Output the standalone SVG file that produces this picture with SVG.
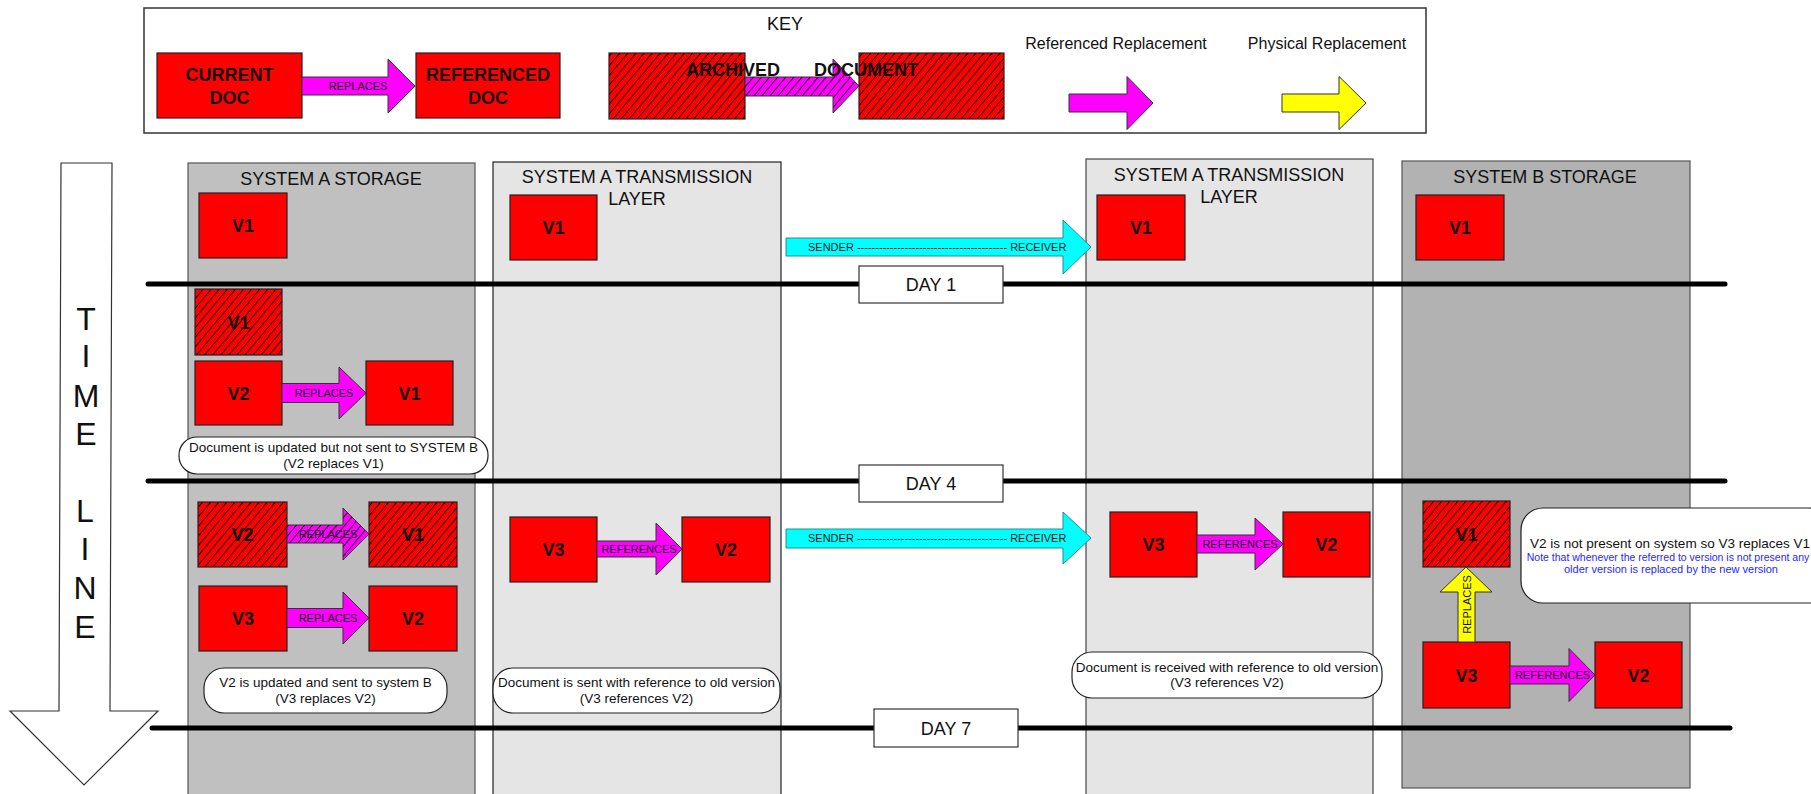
<svg xmlns="http://www.w3.org/2000/svg" width="1811" height="794" viewBox="0 0 1811 794">
<defs>
<pattern id="hatchRed" width="6.2" height="6.2" patternUnits="userSpaceOnUse" patternTransform="rotate(40)">
<rect width="6.2" height="6.2" fill="#ff0000"/>
<line x1="0.5" y1="0" x2="0.5" y2="6.2" stroke="#000" stroke-width="0.9"/>
</pattern>
<pattern id="hatchMag" width="6.2" height="6.2" patternUnits="userSpaceOnUse" patternTransform="rotate(40)">
<rect width="6.2" height="6.2" fill="#ff00ff"/>
<line x1="0.5" y1="0" x2="0.5" y2="6.2" stroke="#000" stroke-width="0.9"/>
</pattern>
</defs>
<style>
text{font-family:"Liberation Sans",Arial,sans-serif;fill:#111}
.doc{fill:#ff0000;stroke:#222;stroke-width:1.2}
.arch{fill:url(#hatchRed);stroke:#222;stroke-width:1.2}
.v{font-size:18px;font-weight:bold;text-anchor:middle}
.mag{fill:#ff00ff;stroke:#333;stroke-width:1}
.magh{fill:url(#hatchMag);stroke:#333;stroke-width:1}
.yel{fill:#ffff00;stroke:#333;stroke-width:1}
.cyan{fill:#00ffff;stroke:#2a8a8a;stroke-width:1}
.lbl{font-size:11px;text-anchor:middle}
.title{font-size:18px;text-anchor:middle}
.note{fill:#fff;stroke:#222;stroke-width:1.2}
.nt{font-size:13.5px;text-anchor:middle}
.day{fill:#fff;stroke:#333;stroke-width:1.2}
.dline{stroke:#000;stroke-width:5;stroke-linecap:round}
.tl{font-size:32px;text-anchor:middle}
</style>
<rect width="1811" height="794" fill="#fff"/>

<!-- columns -->
<g id="col-a-storage"><rect x="188" y="163" width="287" height="640" fill="#c0c0c0" stroke="#555" stroke-width="1.2"/><text class="title" x="331" y="184.5">SYSTEM A STORAGE</text></g>
<g id="col-a-trans-left"><rect x="493" y="162" width="288" height="640" fill="#e5e5e5" stroke="#222" stroke-width="1.2"/><text class="title" x="637" y="183">SYSTEM A TRANSMISSION</text><text class="title" x="637" y="205">LAYER</text></g>
<g id="col-a-trans-right"><rect x="1086" y="159" width="287" height="640" fill="#e5e5e5" stroke="#444" stroke-width="1.2"/><text class="title" x="1229" y="181">SYSTEM A TRANSMISSION</text><text class="title" x="1229" y="203">LAYER</text></g>
<g id="col-b-storage"><rect x="1402" y="161" width="288" height="627" fill="#b2b2b2" stroke="#555" stroke-width="1.2"/><text class="title" x="1545" y="183">SYSTEM B STORAGE</text></g>

<!-- key -->
<g id="key">
<rect x="144" y="8" width="1282" height="125" fill="#fff" stroke="#333" stroke-width="1.5"/>
<text x="785" y="29.5" style="font-size:18px;text-anchor:middle">KEY</text>
<text x="1116" y="49" style="font-size:16px;text-anchor:middle">Referenced Replacement</text>
<text x="1327" y="49" style="font-size:16px;text-anchor:middle">Physical Replacement</text>
</g>
<g id="key-current"><rect class="doc" x="157" y="53" width="145" height="65"/><text class="v" x="229.5" y="80.5">CURRENT</text><text class="v" x="229.5" y="103.5">DOC</text></g>
<g id="key-referenced"><rect class="doc" x="416" y="53" width="144" height="65"/><text class="v" x="488" y="80.5">REFERENCED</text><text class="v" x="488" y="103.5">DOC</text></g>
<g id="key-archived"><rect class="arch" x="609" y="53" width="136" height="66"/></g>
<g id="key-document"><rect class="arch" x="859" y="53" width="145" height="66"/></g>

<!-- timeline -->
<g id="timeline">
<polygon points="61,163 112,163 110,711 158,711 84,785 10,711 59,711" fill="#fff" stroke="#333" stroke-width="1.2"/>
<text class="tl" x="86" y="330">T</text>
<text class="tl" x="86" y="367">I</text>
<text class="tl" x="86" y="407">M</text>
<text class="tl" x="86" y="445">E</text>
<text class="tl" x="85" y="522">L</text>
<text class="tl" x="85" y="560">I</text>
<text class="tl" x="85" y="599">N</text>
<text class="tl" x="85" y="638">E</text>
</g>

<!-- day lines -->
<g id="day-lines">
<line class="dline" x1="148" y1="284" x2="1725" y2="284"/>
<line class="dline" x1="148" y1="481" x2="1725" y2="481"/>
<line class="dline" x1="152" y1="728" x2="1730" y2="728"/>
</g>
<g id="day1"><rect class="day" x="859" y="266" width="144" height="37"/><text class="title" x="931" y="291">DAY 1</text></g>
<g id="day4"><rect class="day" x="859" y="465" width="144" height="37"/><text class="title" x="931" y="490">DAY 4</text></g>
<g id="day7"><rect class="day" x="874" y="709" width="144" height="38"/><text class="title" x="946" y="734.5">DAY 7</text></g>

<!-- row 1 nodes -->
<g id="as-v1-d1"><rect class="doc" x="199" y="193" width="88" height="65"/><text class="v" x="243" y="232">V1</text></g>
<g id="atl-v1-d1"><rect class="doc" x="510" y="195" width="87" height="65"/><text class="v" x="553.5" y="234">V1</text></g>
<g id="atr-v1-d1"><rect class="doc" x="1097" y="195" width="88" height="65"/><text class="v" x="1141" y="234">V1</text></g>
<g id="bs-v1-d1"><rect class="doc" x="1416" y="195" width="88" height="65"/><text class="v" x="1460" y="234">V1</text></g>

<!-- row 2 nodes -->
<g id="as-v1-arch-d4"><rect class="arch" x="195" y="289" width="87" height="66"/><text class="v" x="238.5" y="328.5">V1</text></g>
<g id="as-v2-d4"><rect class="doc" x="195" y="361" width="87" height="64"/><text class="v" x="238.5" y="399.5">V2</text></g>
<g id="as-v1-d4"><rect class="doc" x="366" y="361" width="87" height="64"/><text class="v" x="409.5" y="399.5">V1</text></g>
<g id="note-d4"><rect class="note" x="179" y="437" width="309" height="37" rx="18" ry="18"/><text class="nt" x="333.5" y="452">Document is updated but not sent to SYSTEM B</text><text class="nt" x="333.5" y="468">(V2 replaces V1)</text></g>

<!-- row 3 nodes -->
<g id="as-v2-arch-d7"><rect class="arch" x="198" y="502" width="89" height="65"/><text class="v" x="242.5" y="541">V2</text></g>
<g id="as-v1-arch-d7"><rect class="arch" x="369" y="502" width="88" height="65"/><text class="v" x="413" y="541">V1</text></g>
<g id="as-v3-d7"><rect class="doc" x="199" y="586" width="88" height="65"/><text class="v" x="243" y="625">V3</text></g>
<g id="as-v2-d7"><rect class="doc" x="369" y="586" width="88" height="65"/><text class="v" x="413" y="625">V2</text></g>
<g id="note-as-d7"><rect class="note" x="204" y="668" width="243" height="45" rx="20" ry="20"/><text class="nt" x="325.5" y="687">V2 is updated and sent to system B</text><text class="nt" x="325.5" y="703">(V3 replaces V2)</text></g>

<g id="atl-v3-d7"><rect class="doc" x="510" y="517" width="87" height="65"/><text class="v" x="553.5" y="556">V3</text></g>
<g id="atl-v2-d7"><rect class="doc" x="682" y="517" width="88" height="65"/><text class="v" x="726" y="556">V2</text></g>
<g id="note-atl-d7"><rect class="note" x="493" y="668" width="287" height="45" rx="20" ry="20"/><text class="nt" x="636.5" y="687">Document is sent with reference to old version</text><text class="nt" x="636.5" y="703">(V3 references V2)</text></g>

<g id="atr-v3-d7"><rect class="doc" x="1110" y="512" width="87" height="65"/><text class="v" x="1153.5" y="551">V3</text></g>
<g id="atr-v2-d7"><rect class="doc" x="1283" y="512" width="87" height="65"/><text class="v" x="1326.5" y="551">V2</text></g>
<g id="note-atr-d7"><rect class="note" x="1072" y="652" width="310" height="46" rx="20" ry="20"/><text class="nt" x="1227" y="672">Document is received with reference to old version</text><text class="nt" x="1227" y="687">(V3 references V2)</text></g>

<g id="bs-v1-arch-d7"><rect class="arch" x="1423" y="501" width="87" height="66"/><text class="v" x="1466.5" y="540.5">V1</text></g>
<g id="bs-v3-d7"><rect class="doc" x="1423" y="642" width="87" height="66"/><text class="v" x="1466.5" y="681.5">V3</text></g>
<g id="bs-v2-d7"><rect class="doc" x="1595" y="642" width="87" height="66"/><text class="v" x="1638.5" y="681.5">V2</text></g>
<g id="note-bs-d7"><rect class="note" x="1521" y="508" width="310" height="95" rx="22" ry="22"/><text class="nt" x="1670" y="548">V2 is not present on system so V3 replaces V1</text><text x="1668" y="561" style="font-size:10.5px;text-anchor:middle;fill:#1f1fff">Note that whenever the referred to version is not present any</text><text x="1671" y="573" style="font-size:11px;text-anchor:middle;fill:#1f1fff">older version is replaced by the new version</text></g>

<!-- connectors -->
<g id="connectors">
<polygon class="mag" points="302,77 388,77 388,59 415,86 388,113 388,95 302,95"/>
<text class="lbl" x="358" y="89.5">REPLACES</text>
<polygon class="magh" points="745,77 833,77 833,59 859,86 833,113 833,96 745,96"/>
<polygon class="mag" points="1069,94 1127,94 1127,76.5 1153,103 1127,129.5 1127,112 1069,112"/>
<polygon class="yel" points="1282,94 1339,94 1339,76.5 1366,103 1339,129.5 1339,112 1282,112"/>

<polygon class="cyan" points="786,238 1063,238 1063,220 1091,247 1063,274 1063,256 786,256"/>
<text x="808" y="250.5" style="font-size:11px">SENDER ----------------------------------------- RECEIVER</text>
<polygon class="cyan" points="786,529 1063,529 1063,512 1091,538 1063,564 1063,548 786,548"/>
<text x="808" y="542" style="font-size:11px">SENDER ----------------------------------------- RECEIVER</text>

<polygon class="mag" points="282,383.5 339,383.5 339,367 366,393 339,419 339,402.5 282,402.5"/>
<text class="lbl" x="324" y="397">REPLACES</text>
<polygon class="magh" points="287,525 343,525 343,508 369,534 343,560 343,543 287,543"/>
<text class="lbl" x="328" y="538">REPLACES</text>
<polygon class="mag" points="287,608.5 343,608.5 343,592 369,618 343,644 343,627.5 287,627.5"/>
<text class="lbl" x="328" y="622">REPLACES</text>

<polygon class="mag" points="597,541 656,541 656,523 682,549 656,575 656,557 597,557"/>
<text class="lbl" x="639" y="553">REFERENCES</text>
<polygon class="mag" points="1197,535 1255,535 1255,518 1283,544 1255,570 1255,553 1197,553"/>
<text class="lbl" x="1240" y="548">REFERENCES</text>
<polygon class="mag" points="1510,666 1569,666 1569,648.5 1595,675 1569,701.5 1569,684 1510,684"/>
<text class="lbl" x="1552.5" y="679">REFERENCES</text>

<polygon class="yel" points="1458,642 1458,592 1440,592 1466,567 1492,592 1475,592 1475,642"/>
<text class="lbl" transform="translate(1470.5,604.5) rotate(-90)" x="0" y="0">REPLACES</text>
</g>

<!-- key hatched labels on top -->
<g id="key-archived-labels">
<text class="v" x="733" y="75.5">ARCHIVED</text>
<text class="v" x="866" y="75.5">DOCUMENT</text>
</g>
</svg>
